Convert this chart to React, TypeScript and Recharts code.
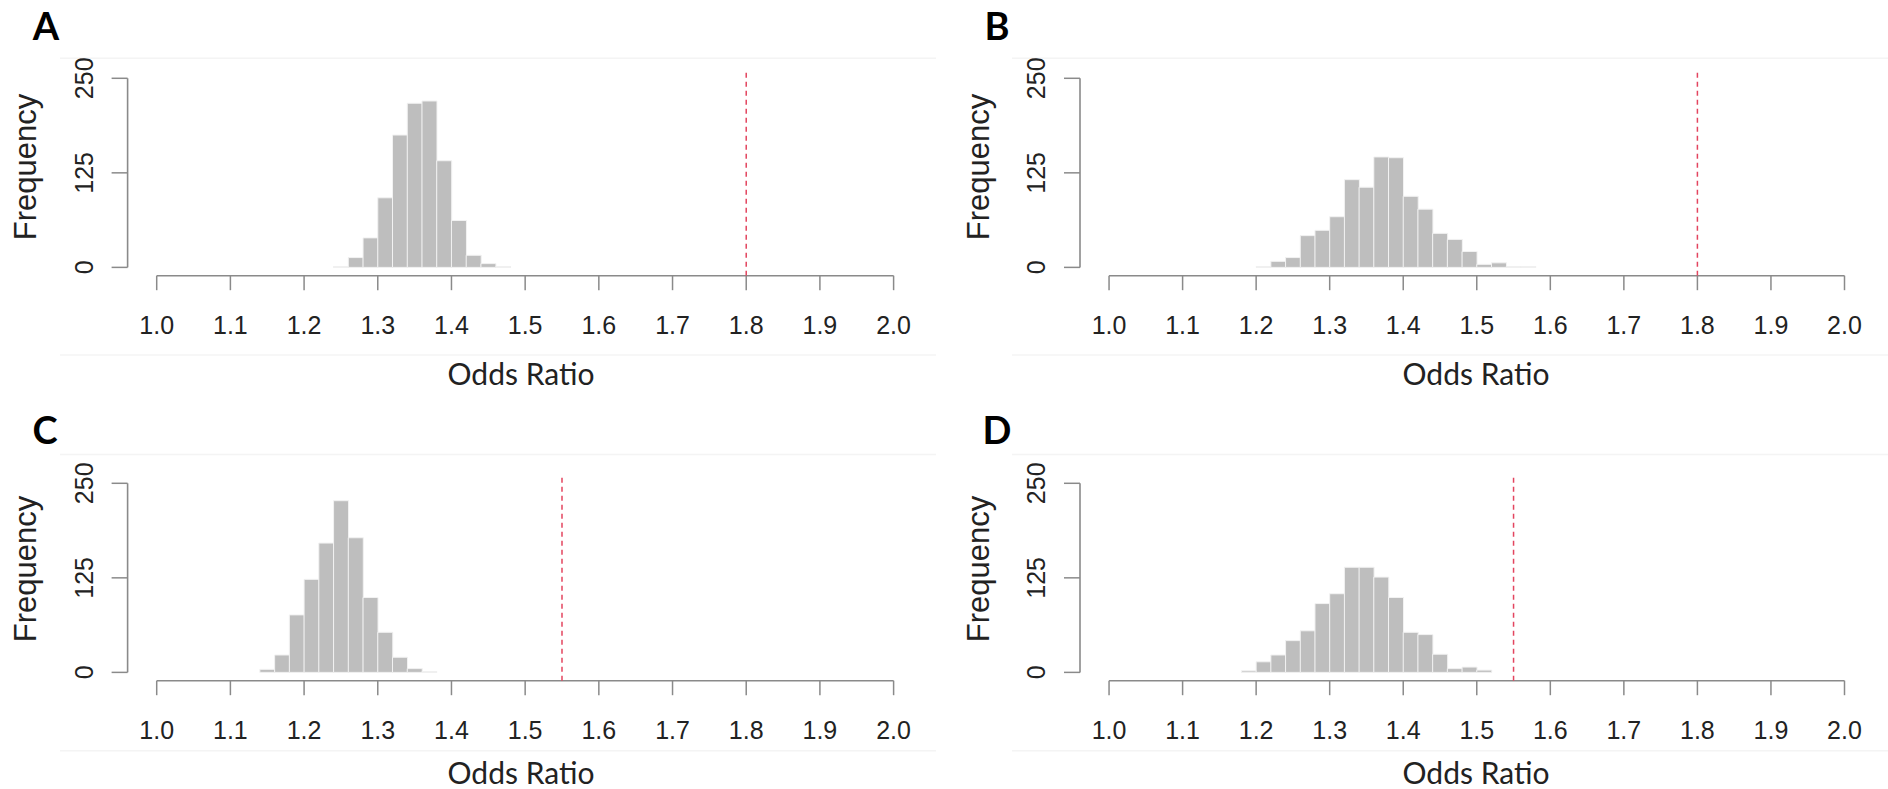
import React from 'react';
import { BarChart, Bar, XAxis, YAxis, ReferenceLine } from 'recharts';

// ---- data ----
const xTicks = [1.0, 1.1, 1.2, 1.3, 1.4, 1.5, 1.6, 1.7, 1.8, 1.9, 2.0];
const yTicks = [0, 125, 250];

const binsA = [1.25, 1.27, 1.29, 1.31, 1.33, 1.35, 1.37, 1.39, 1.41, 1.43, 1.45, 1.47];
const countsA = [1, 13, 39, 92, 175, 217, 220, 141, 62, 16, 5, 1];

const binsB = [1.21, 1.23, 1.25, 1.27, 1.29, 1.31, 1.33, 1.35, 1.37, 1.39, 1.41, 1.43, 1.45, 1.47, 1.49, 1.51, 1.53, 1.55, 1.57];
const countsB = [1, 8, 13, 42, 49, 67, 116, 106, 146, 145, 94, 77, 45, 37, 21, 4, 6, 1, 1];

const binsC = [1.15, 1.17, 1.19, 1.21, 1.23, 1.25, 1.27, 1.29, 1.31, 1.33, 1.35, 1.37];
const countsC = [4, 23, 76, 123, 171, 227, 178, 99, 53, 20, 5, 1];

const binsD = [1.19, 1.21, 1.23, 1.25, 1.27, 1.29, 1.31, 1.33, 1.35, 1.37, 1.39, 1.41, 1.43, 1.45, 1.47, 1.49, 1.51];
const countsD = [2, 14, 23, 42, 55, 91, 104, 139, 139, 126, 99, 53, 50, 24, 5, 7, 3];

const cutoffs = [1.8, 1.8, 1.55, 1.55];
const panelLetters = ['A', 'B', 'C', 'D'];
const xAxisTitle = 'Odds Ratio';
const yAxisTitle = 'Frequency';

// ---- layout / style ----
const X0 = 0.9605;
const Y_MIN = -11;
const Y_TOP = 261;
const AXIS = '#8a8a8a';
const BAR_FILL = '#bebebe';
const BAR_STROKE = '#f2f2f2';
const RED = '#e3455f';
const TICK_FONT = '"Liberation Sans", Arial, Helvetica, sans-serif';
const TITLE_FONT = 'Lato, "Open Sans", sans-serif';

type PanelLayout = {
  left: number; top: number; width: number; height: number;
  margin: { top: number; right: number; bottom: number; left: number };
  yAxisWidth: number;
};

const layouts: PanelLayout[] = [
  { left: 0, top: 0, width: 944, height: 400, margin: { top: 78.3, right: 50.4, bottom: 64.3, left: 0 }, yAxisWidth: 127.6 },
  { left: 944, top: 0, width: 944, height: 400, margin: { top: 78.3, right: 43.5, bottom: 64.3, left: 0 }, yAxisWidth: 136 },
  { left: 0, top: 400, width: 944, height: 389, margin: { top: 83.3, right: 50.4, bottom: 48.3, left: 0 }, yAxisWidth: 127.6 },
  { left: 944, top: 400, width: 944, height: 389, margin: { top: 83.3, right: 43.5, bottom: 48.3, left: 0 }, yAxisWidth: 136 },
];

const YTick = (props: any) => {
  const { x, y, payload } = props;
  const bx = x - 18.9;
  return (
    <text
      x={bx}
      y={y}
      transform={`rotate(-90, ${bx}, ${y})`}
      textAnchor="middle"
      fontSize={25}
      fontFamily={TICK_FONT}
      fill="#222"
    >
      {payload.value}
    </text>
  );
};

function Panel({ bins, counts, cutoff, layout }: { bins: number[]; counts: number[]; cutoff: number; layout: PanelLayout }) {
  const data = bins.map((x, i) => ({ x, count: counts[i] }));
  return (
    <div style={{ position: 'absolute', left: layout.left, top: layout.top, width: layout.width, height: layout.height }}>
      <BarChart
        width={layout.width}
        height={layout.height}
        data={data}
        margin={layout.margin}
        barCategoryGap={0}
        barGap={0}
      >
        <XAxis
          dataKey="x"
          type="number"
          domain={[X0, 2]}
          allowDataOverflow
          ticks={xTicks}
          interval={0}
          tickFormatter={(v: number) => v.toFixed(1)}
          axisLine={false}
          tickSize={14.5}
          tickMargin={26}
          tickLine={{ stroke: AXIS, strokeWidth: 1.5 }}
          tick={{ fontSize: 25, fill: '#222', fontFamily: TICK_FONT }}
          height={60}
        />
        <YAxis
          type="number"
          domain={[Y_MIN, 250]}
          allowDataOverflow
          ticks={yTicks}
          interval={0}
          axisLine={false}
          tickSize={16}
          tickMargin={0}
          tickLine={{ stroke: AXIS, strokeWidth: 1.5 }}
          tick={YTick}
          width={layout.yAxisWidth}
        />
        <Bar dataKey="count" fill={BAR_FILL} stroke={BAR_STROKE} strokeWidth={1} isAnimationActive={false} />
        <ReferenceLine segment={[{ x: 1, y: Y_MIN }, { x: 2, y: Y_MIN }]} stroke={AXIS} strokeWidth={1.6} ifOverflow="visible" />
        <ReferenceLine segment={[{ x: X0, y: 0 }, { x: X0, y: 250 }]} stroke={AXIS} strokeWidth={1.6} ifOverflow="visible" />
        <ReferenceLine
          segment={[{ x: cutoff, y: Y_MIN }, { x: cutoff, y: Y_TOP }]}
          stroke={RED}
          strokeWidth={1.5}
          strokeDasharray="5 4"
          ifOverflow="visible"
        />
      </BarChart>
    </div>
  );
}

const binsList = [binsA, binsB, binsC, binsD];
const countsList = [countsA, countsB, countsC, countsD];

// text positions (page coordinates)
const letterPos = [
  { x: 46, y: 40 }, { x: 997, y: 40 }, { x: 45, y: 444 }, { x: 997, y: 444 },
];
const freqPos = [
  { x: 36, y: 167 }, { x: 989, y: 167 }, { x: 36, y: 569 }, { x: 989, y: 569 },
];
const oddsPos = [
  { x: 521, y: 385 }, { x: 1476, y: 385 }, { x: 521, y: 784 }, { x: 1476, y: 784 },
];
const faintLines = [
  { x1: 60, x2: 936, y: 58.3 }, { x1: 1012, x2: 1888, y: 58.3 },
  { x1: 60, x2: 936, y: 355 }, { x1: 1012, x2: 1888, y: 355 },
  { x1: 60, x2: 936, y: 454.4 }, { x1: 1012, x2: 1888, y: 454.4 },
  { x1: 60, x2: 936, y: 750.7 }, { x1: 1012, x2: 1888, y: 750.7 },
];

export default function App() {
  return (
    <div style={{ position: 'absolute', left: 0, top: 0, width: 1888, height: 789, background: '#fff', overflow: 'hidden' }}>
      <svg width={1888} height={789} style={{ position: 'absolute', left: 0, top: 0 }}>
        {faintLines.map((l, i) => (
          <line key={i} x1={l.x1} x2={l.x2} y1={l.y} y2={l.y} stroke="#f4f4f4" strokeWidth={1.5} />
        ))}
      </svg>
      {layouts.map((layout, i) => (
        <Panel key={i} bins={binsList[i]} counts={countsList[i]} cutoff={cutoffs[i]} layout={layout} />
      ))}
      <svg width={1888} height={789} style={{ position: 'absolute', left: 0, top: 0, pointerEvents: 'none' }}>
        {panelLetters.map((t, i) => (
          <text key={'l' + i} x={letterPos[i].x} y={letterPos[i].y} textAnchor="middle" fontSize={38} fontWeight={700} fontFamily={TITLE_FONT} fill="#000">
            {t}
          </text>
        ))}
        {freqPos.map((p, i) => (
          <text key={'f' + i} x={p.x} y={p.y} transform={`rotate(-90, ${p.x}, ${p.y})`} textAnchor="middle" fontSize={31} fontFamily={TICK_FONT} fill="#222">
            {yAxisTitle}
          </text>
        ))}
        {oddsPos.map((p, i) => (
          <text key={'o' + i} x={p.x} y={p.y} textAnchor="middle" fontSize={30} fontFamily={TITLE_FONT} fill="#222">
            {xAxisTitle}
          </text>
        ))}
      </svg>
    </div>
  );
}
